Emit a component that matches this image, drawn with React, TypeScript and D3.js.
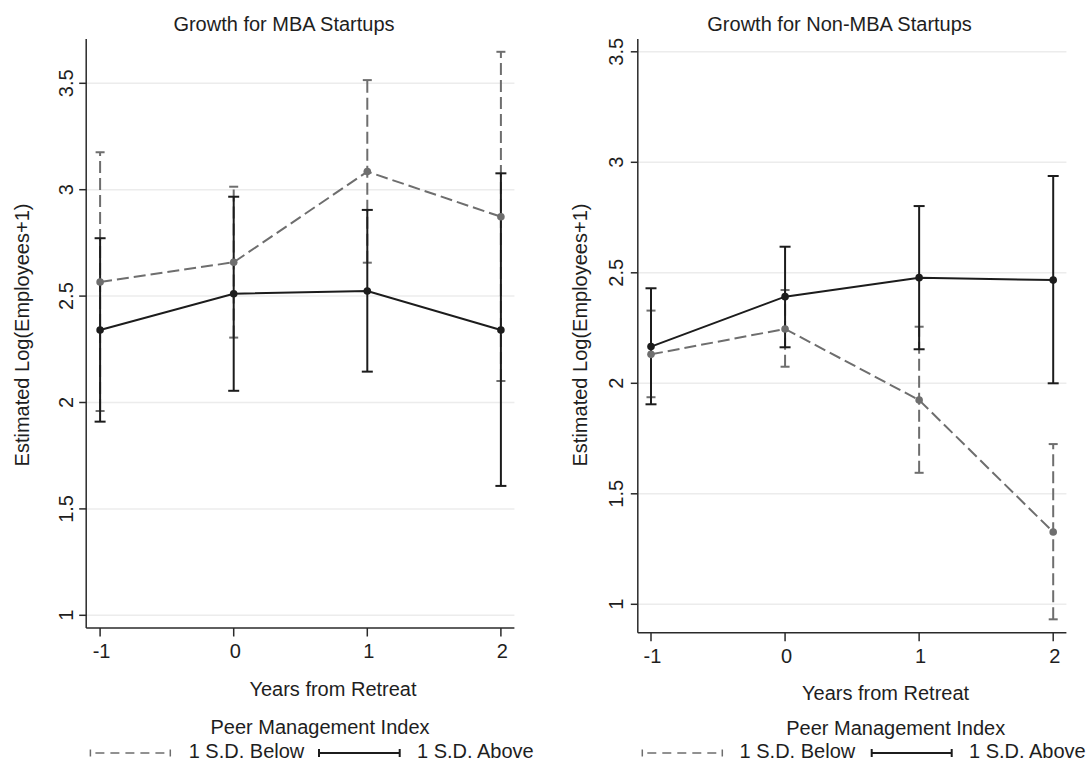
import React from "react";
import * as d3 from "d3";

// ---- data ----
const years = [-1, 0, 1, 2];
const xTickLabels = ["-1", "0", "1", "2"];
const yTicks = [1, 1.5, 2, 2.5, 3, 3.5];
const yTickLabels = ["1", "1.5", "2", "2.5", "3", "3.5"];

// Growth for MBA Startups
const mbaAbove = [2.341, 2.511, 2.524, 2.341];
const mbaAboveLo = [1.91, 2.055, 2.145, 1.608];
const mbaAboveHi = [2.772, 2.967, 2.905, 3.077];
const mbaBelow = [2.566, 2.659, 3.085, 2.873];
const mbaBelowLo = [1.96, 2.305, 2.657, 2.101];
const mbaBelowHi = [3.176, 3.014, 3.515, 3.648];

// Growth for Non-MBA Startups
const nonAbove = [2.166, 2.392, 2.478, 2.467];
const nonAboveLo = [1.905, 2.163, 2.154, 2.0];
const nonAboveHi = [2.43, 2.618, 2.802, 2.938];
const nonBelow = [2.131, 2.246, 1.924, 1.327];
const nonBelowLo = [1.937, 2.075, 1.595, 0.932];
const nonBelowHi = [2.329, 2.422, 2.256, 1.725];

const titles = ["Growth for MBA Startups", "Growth for Non-MBA Startups"];
const xTitle = "Years from Retreat";
const yTitle = "Estimated Log(Employees+1)";
const legendTitle = "Peer Management Index";
const seriesNames = ["1 S.D. Below", "1 S.D. Above"];

const FONT = "'Liberation Sans', Arial, Helvetica, sans-serif";
const BLACK = "#1c1c1c";
const GRAY = "#6e6e6e";
const TEXT = "#1e1e1e";

type Layout = {
  x0: number; x1: number; yTop: number; yBottom: number;
  xRange: [number, number]; yRange: [number, number];
  yLabelX: number; yTitleX: number; xLabelY: number; xTitleX: number; xTitleY: number;
  titleX: number; legTitleX: number; legTitleY: number;
  legDash: [number, number]; legBelowX: number; legSolid: [number, number]; legAboveX: number;
};

const layouts: Layout[] = [
  {
    x0: 86.2, x1: 514.4, yTop: 39, yBottom: 628,
    xRange: [100.1, 500.9], yRange: [615.3, 83.3],
    yLabelX: 73, yTitleX: 29, xLabelY: 658, xTitleX: 333, xTitleY: 696,
    titleX: 284, legTitleX: 320, legTitleY: 734,
    legDash: [90.4, 170.3], legBelowX: 188.7, legSolid: [319, 399.7], legAboveX: 417,
  },
  {
    x0: 637.8, x1: 1066.4, yTop: 39, yBottom: 632.7,
    xRange: [651, 1053.2], yRange: [604.3, 51.8],
    yLabelX: 623, yTitleX: 587, xLabelY: 663, xTitleX: 885.6, xTitleY: 700,
    titleX: 839.6, legTitleX: 895.7, legTitleY: 735,
    legDash: [642.3, 722.3], legBelowX: 739.6, legSolid: [871.7, 951.7], legAboveX: 969,
  },
];

type PanelData = {
  above: number[]; aboveLo: number[]; aboveHi: number[];
  below: number[]; belowLo: number[]; belowHi: number[];
};

const panels: PanelData[] = [
  { above: mbaAbove, aboveLo: mbaAboveLo, aboveHi: mbaAboveHi, below: mbaBelow, belowLo: mbaBelowLo, belowHi: mbaBelowHi },
  { above: nonAbove, aboveLo: nonAboveLo, aboveHi: nonAboveHi, below: nonBelow, belowLo: nonBelowLo, belowHi: nonBelowHi },
];

const DASH = "12,5";

function Panel({ L, D, title }: { L: Layout; D: PanelData; title: string }) {
  const x = d3.scaleLinear().domain([-1, 2]).range(L.xRange);
  const y = d3.scaleLinear().domain([1, 3.5]).range(L.yRange);
  const line = d3.line<number>().x((_, i) => x(years[i])).y((v) => y(v));
  const legY = 753;
  const legTextY = 757.5;

  const bars = (lo: number[], hi: number[], color: string, dashed: boolean, cap: number) =>
    years.map((yr, i) => (
      <g key={i}>
        <line x1={x(yr)} x2={x(yr)} y1={y(lo[i])} y2={y(hi[i])} stroke={color} strokeWidth={2}
          strokeDasharray={dashed ? DASH : undefined} />
        <line x1={x(yr) - cap} x2={x(yr) + cap} y1={y(lo[i])} y2={y(lo[i])} stroke={color} strokeWidth={2} />
        <line x1={x(yr) - cap} x2={x(yr) + cap} y1={y(hi[i])} y2={y(hi[i])} stroke={color} strokeWidth={2} />
      </g>
    ));

  return (
    <g>
      {/* gridlines */}
      {yTicks.map((t) => (
        <line key={t} x1={L.x0} x2={L.x1} y1={y(t)} y2={y(t)} stroke="#ececec" strokeWidth={1.5} />
      ))}
      {/* axes */}
      <line x1={L.x0} x2={L.x0} y1={L.yTop} y2={L.yBottom} stroke="#2a2a2a" strokeWidth={1.5} />
      <line x1={L.x0} x2={L.x1} y1={L.yBottom} y2={L.yBottom} stroke="#2a2a2a" strokeWidth={1.5} />
      {yTicks.map((t, i) => (
        <g key={t}>
          <line x1={L.x0 - 7} x2={L.x0} y1={y(t)} y2={y(t)} stroke="#2a2a2a" strokeWidth={1.5} />
          <text x={L.yLabelX} y={y(t)} transform={`rotate(-90, ${L.yLabelX}, ${y(t)})`} textAnchor="middle"
            fontSize={20} fontFamily={FONT} fill={TEXT}>{yTickLabels[i]}</text>
        </g>
      ))}
      {years.map((yr, i) => (
        <g key={yr}>
          <line x1={x(yr)} x2={x(yr)} y1={L.yBottom} y2={L.yBottom + 8.5} stroke="#2a2a2a" strokeWidth={1.5} />
          <text x={x(yr) + 1.5} y={L.xLabelY} textAnchor="middle" fontSize={20} fontFamily={FONT} fill={TEXT}>
            {xTickLabels[i]}
          </text>
        </g>
      ))}
      {/* titles */}
      <text x={L.titleX} y={31} textAnchor="middle" fontSize={20} fontFamily={FONT} fill={TEXT}>{title}</text>
      <text x={L.xTitleX} y={L.xTitleY} textAnchor="middle" fontSize={20} fontFamily={FONT} fill={TEXT}>{xTitle}</text>
      <text x={L.yTitleX} y={335} transform={`rotate(-90, ${L.yTitleX}, 335)`} textAnchor="middle" fontSize={20}
        fontFamily={FONT} fill={TEXT}>{yTitle}</text>

      {/* error bars */}
      {bars(D.belowLo, D.belowHi, GRAY, true, 4.5)}
      {bars(D.aboveLo, D.aboveHi, BLACK, false, 5.5)}

      {/* connected lines */}
      <path d={line(D.above) ?? ""} fill="none" stroke={BLACK} strokeWidth={2} />
      {D.above.map((v, i) => (
        <circle key={i} cx={x(years[i])} cy={y(v)} r={3.8} fill={BLACK} />
      ))}
      <path d={line(D.below) ?? ""} fill="none" stroke={GRAY} strokeWidth={2} strokeDasharray={DASH} />
      {D.below.map((v, i) => (
        <circle key={i} cx={x(years[i])} cy={y(v)} r={3.8} fill={GRAY} />
      ))}

      {/* legend */}
      <text x={L.legTitleX} y={L.legTitleY} textAnchor="middle" fontSize={20} fontFamily={FONT} fill={TEXT}>
        {legendTitle}
      </text>
      <line x1={L.legDash[0]} x2={L.legDash[1]} y1={legY} y2={legY} stroke={GRAY} strokeWidth={1.5}
        strokeDasharray="9,6" strokeDashoffset={-5} />
      <line x1={L.legDash[0]} x2={L.legDash[0]} y1={legY - 3.5} y2={legY + 3.5} stroke={GRAY} strokeWidth={1.5} />
      <line x1={L.legDash[1]} x2={L.legDash[1]} y1={legY - 3.5} y2={legY + 3.5} stroke={GRAY} strokeWidth={1.5} />
      <text x={L.legBelowX} y={legTextY} fontSize={20} fontFamily={FONT} fill={TEXT}>{seriesNames[0]}</text>
      <line x1={L.legSolid[0]} x2={L.legSolid[1]} y1={legY} y2={legY} stroke={BLACK} strokeWidth={2} />
      <line x1={L.legSolid[0]} x2={L.legSolid[0]} y1={legY - 4} y2={legY + 4} stroke={BLACK} strokeWidth={2} />
      <line x1={L.legSolid[1]} x2={L.legSolid[1]} y1={legY - 4} y2={legY + 4} stroke={BLACK} strokeWidth={2} />
      <text x={L.legAboveX} y={legTextY} fontSize={20} fontFamily={FONT} fill={TEXT}>{seriesNames[1]}</text>
    </g>
  );
}

export default function App() {
  return (
    <svg width={1089} height={761} style={{ position: "absolute", left: 0, top: 0, background: "#fff" }}>
      <rect x={0} y={0} width={1089} height={761} fill="#fff" />
      {layouts.map((L, i) => (
        <Panel key={i} L={L} D={panels[i]} title={titles[i]} />
      ))}
    </svg>
  );
}
